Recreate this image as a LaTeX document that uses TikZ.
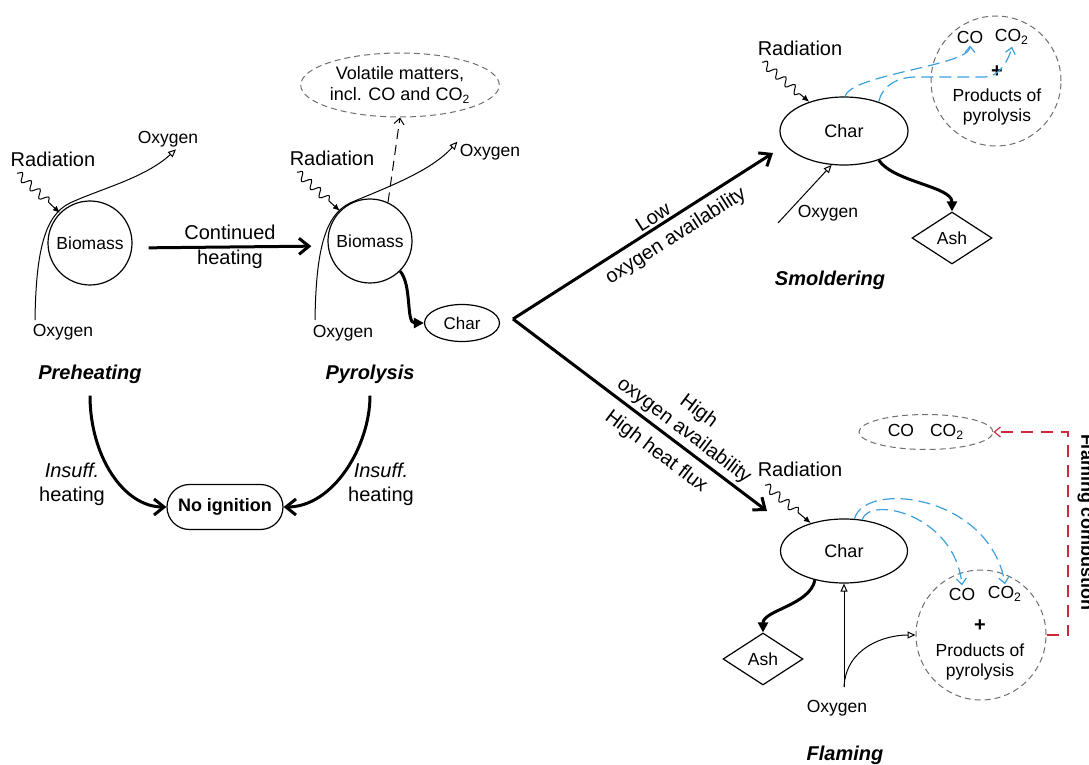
\documentclass[tikz,border=0pt]{standalone}
\usepackage{fontspec}
\setmainfont{Liberation Sans}
\usetikzlibrary{positioning,shapes.geometric,shapes.misc,arrows.meta,decorations.pathmorphing}
\definecolor{flowblue}{RGB}{60,160,220}
\definecolor{flamered}{RGB}{205,40,60}
\definecolor{cloudgray}{RGB}{110,110,110}

\begin{document}
\begin{tikzpicture}[x=0.5pt,y=-0.5pt,
		lbl/.style={inner sep=1pt,font=\fontsize{10}{12}\selectfont},
		sm/.style={inner sep=1pt,font=\fontsize{8.75}{10}\selectfont},
		stage/.style={inner sep=1pt,font=\fontsize{10}{12}\selectfont\bfseries\itshape},
		biomass/.style={draw,circle,line width=0.6pt,minimum size=42pt,inner sep=0pt,font=\fontsize{8.75}{10}\selectfont},
		charnode/.style={draw,ellipse,line width=0.6pt,inner sep=0pt,font=\fontsize{9}{11}\selectfont},
		ashnode/.style={draw,diamond,line width=0.6pt,inner sep=0pt,minimum width=40pt,minimum height=26pt,font=\fontsize{8.75}{10}\selectfont},
		cloud/.style={draw=cloudgray,dash pattern=on 3pt off 2pt,line width=0.5pt,inner sep=0pt},
		heavy/.style={line width=1.5pt,-{Straight Barb[length=5pt,width=8pt]}},
		massflow/.style={line width=1.5pt,-{Triangle[length=5pt,width=5pt]}},
		oxy/.style={line width=0.5pt,-{Triangle[open,length=4pt,width=3.5pt]}},
		wave/.style={line width=0.5pt,-{Latex[length=3.5pt,width=3pt]},decorate,decoration={snake,amplitude=2pt,segment length=6pt,post length=6pt}},
		gasflow/.style={flowblue,line width=0.6pt,dash pattern=on 6pt off 3pt,-{Straight Barb[length=3pt,width=5pt]}},
	]
	\useasboundingbox (0,0) rectangle (1089,765);

	\node (bio1) [biomass] at (90,243) {Biomass};
	\node (rad1) [lbl] at (53,159) {Radiation};
	\node (oxt1) [sm] at (168,139) {Oxygen};
	\node (oxb1) [sm] at (63,332) {Oxygen};
	\node (pre) [stage] at (90,374) {Preheating};
	\coordinate (w1) at (17,173);
	\coordinate (o1) at (35,320);
	\draw[wave] (w1) -- (bio1.135);
	\draw[oxy] (o1) .. controls (36,250) and (45,215) .. (70,203) .. controls (100,189) and (145,178) .. ([xshift=4pt]oxt1.south);

	\node (bio2) [biomass] at (370,241) {Biomass};
	\node (rad2) [lbl] at (332,158) {Radiation};
	\node (oxt2) [sm] at (490,152) {Oxygen};
	\node (oxb2) [sm] at (343,333) {Oxygen};
	\node (pyr) [stage] at (370,374) {Pyrolysis};
	\node (vol) [cloud,ellipse,minimum width=87pt,minimum height=32pt,align=center,font=\fontsize{9}{10.5}\selectfont] at (400,85) {Volatile matters,\\incl. CO and CO\textsubscript{2}};
	\node (char1) [charnode,minimum width=37.5pt,minimum height=18.5pt,font=\fontsize{8.5}{10}\selectfont] at (462,323) {Char};
	\coordinate (w2) at (297,172);
	\coordinate (o2) at (315,320);
	\draw[wave] (w2) -- (bio2.135);
	\draw[oxy] (o2) .. controls (316,250) and (325,215) .. (350,203) .. controls (385,188) and (430,172) .. (oxt2.north west);
	\draw[line width=0.5pt,dash pattern=on 5pt off 3pt,-{Straight Barb[length=3pt,width=5pt]}] (bio2.65) -- (vol.south);
	\draw[massflow] (bio2.-45) .. controls +(12,14) and +(-18,0) .. (char1.west);
	\draw[heavy,shorten <=8pt,shorten >=8pt] ([yshift=-2.5pt]bio1.east) -- node[lbl,above=2pt]{Continued} node[lbl,below]{heating} ([yshift=-2.5pt]bio2.west);

	\node (noig) [draw,rounded rectangle,line width=0.6pt,minimum width=58pt,minimum height=22.5pt,inner sep=0pt,font=\fontsize{9}{11}\selectfont\bfseries] at (225,507) {No ignition};
	\node (ins1) [lbl,align=center] at (72,484) {\textit{Insuff.}\\heating};
	\node (ins2) [lbl,align=center] at (381,484) {\textit{Insuff.}\\heating};
	\draw[heavy,shorten <=5pt] (pre.south) .. controls +(0,70) and +(-43,0) .. (noig.west);
	\draw[heavy,shorten <=5pt] (pyr.south) .. controls +(0,60) and +(50,0) .. (noig.east);

	\coordinate (split) at (513,319);
	\coordinate (smin) at (773,153);
	\coordinate (flin) at (767,511);
	\draw[heavy] (split) -- node[lbl,above,sloped,pos=0.56]{Low} node[lbl,below,sloped,pos=0.59,inner sep=3.5pt]{oxygen availability} (smin);
	\draw[heavy] (split) -- node[lbl,above,sloped,pos=0.64,align=center,inner sep=1.5pt]{High\\oxygen availability} node[lbl,below,sloped,pos=0.61,inner sep=4.5pt]{High heat flux} (flin);

	\node (char2) [charnode,minimum width=64pt,minimum height=34pt] at (844,131) {Char};
	\node (rad3) [lbl] at (800,48) {Radiation};
	\node (oxs) [sm] at (828,213) {Oxygen};
	\node (ash1) [ashnode] at (952,238) {Ash};
	\node (prod1) [cloud,circle,minimum size=65pt] at (996,81) {};
	\node (co1) [sm] at (970,37) {CO};
	\node (coo1) [sm] at (1012,37) {CO\textsubscript{2}};
	\node (plus1) [lbl,font=\fontsize{10}{12}\selectfont\bfseries] at (997,72) {+};
	\node (pp1) [sm,align=center] at (997,107) {Products of\\pyrolysis};
	\node (smol) [stage] at (830,280) {Smoldering};
	\coordinate (w3) at (762,62);
	\coordinate (o3) at (778,223);
	\draw[wave] (w3) -- (char2.140);
	\draw[oxy] (o3) -- (char2.-110);
	\draw[massflow] (char2.-40) .. controls +(15,22) and +(0,-25) .. (ash1.north);
	\draw[gasflow] (char2.88) .. controls +(5,-22) and +(0,20) .. (co1.south);
	\draw[gasflow] (char2.40) .. controls +(4,-18) and +(-15,0) .. (915,77) -- (985,77) .. controls +(15,0) and +(-3,12) .. (coo1.south);

	\node (gas) [cloud,ellipse,minimum width=67pt,minimum height=17.5pt,font=\fontsize{8.75}{10}\selectfont] at (926,432) {CO\hspace{8pt}CO\textsubscript{2}};
	\node (char3) [charnode,minimum width=63.5pt,minimum height=32pt] at (844,551) {Char};
	\node (rad4) [lbl] at (800,469) {Radiation};
	\node (ash2) [ashnode] at (763,659) {Ash};
	\node (prod2) [cloud,circle,minimum size=65pt] at (981,635) {};
	\node (co2) [sm] at (962,594) {CO};
	\node (coo2) [sm] at (1005,594) {CO\textsubscript{2}};
	\node (plus2) [lbl,font=\fontsize{10}{12}\selectfont\bfseries] at (980,626) {+};
	\node (pp2) [sm,align=center] at (980,662) {Products of\\pyrolysis};
	\node (oxf) [sm] at (837,708) {Oxygen};
	\node (flam) [stage] at (845,755) {Flaming};
	\node (flcomb) [inner sep=1pt,rotate=-90,font=\fontsize{9}{10}\selectfont\bfseries] at (1086,522) {Flaming combustion};
	\coordinate (w4) at (765,485);
	\coordinate (o4) at (844,687);
	\coordinate (redc) at (1068,432);
	\draw[wave] (w4) -- (char3.140);
	\draw[massflow] (char3.-135) .. controls +(-5,25) and +(0,-22) .. (ash2.north);
	\draw[gasflow] (char3.72) .. controls (865,480) and (990,495) .. (coo2.north);
	\draw[gasflow] (char3.60) .. controls (870,495) and (955,515) .. (co2.north);
	\draw[oxy] (o4) -- (char3.south);
	\draw[oxy] (o4) .. controls +(2,-40) and +(-30,0) .. (prod2.west);
	\draw[flamered,line width=0.6pt,dash pattern=on 6pt off 4pt,-{Straight Barb[length=3pt,width=5pt]}] (prod2.east) -| (redc) -- (gas.east);
\end{tikzpicture}
\end{document}
